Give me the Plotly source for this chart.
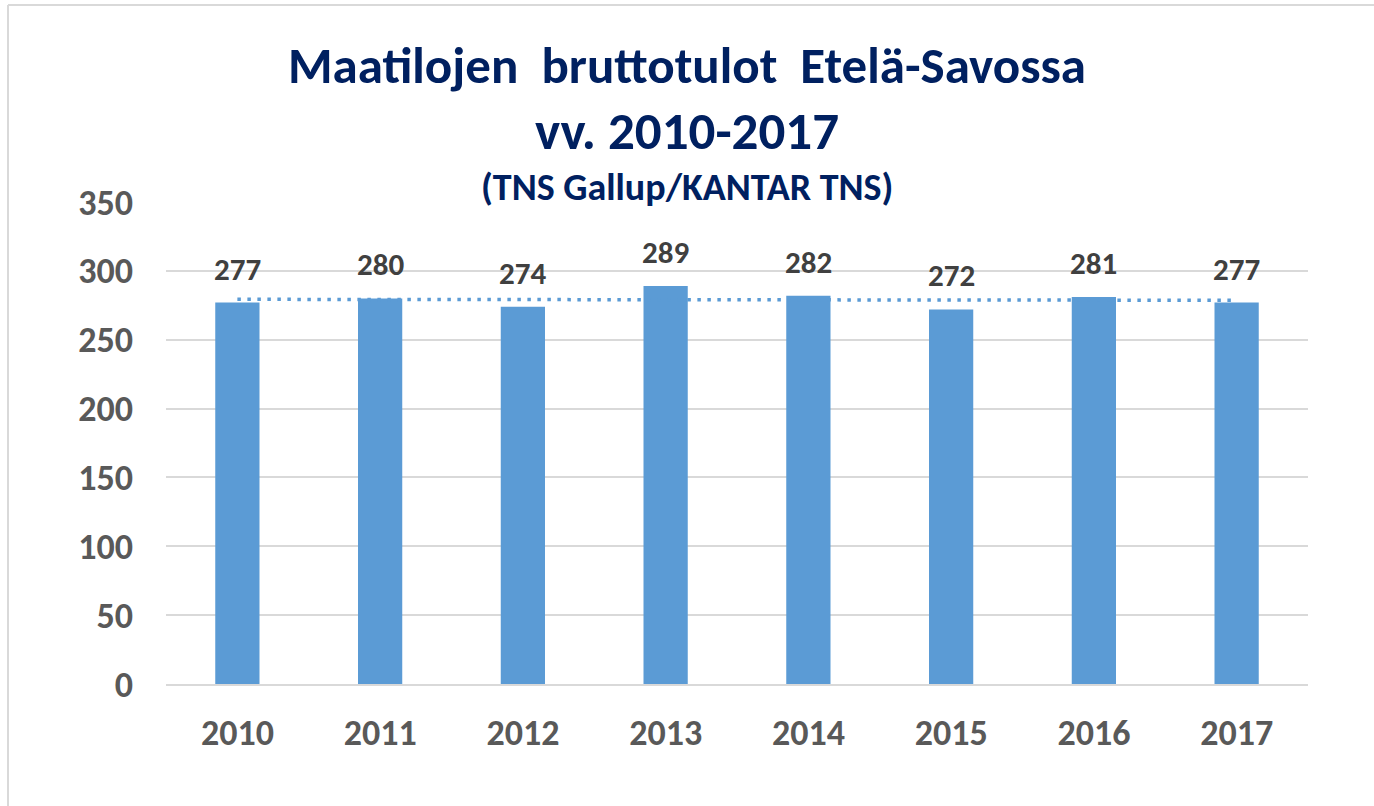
import numpy as np
import plotly.graph_objects as go

years = ["2010", "2011", "2012", "2013", "2014", "2015", "2016", "2017"]
values = [277, 280, 274, 289, 282, 272, 281, 277]
y_ticks = [0, 50, 100, 150, 200, 250, 300, 350]
title_lines = ["Maatilojen  bruttotulot  Etelä-Savossa", "vv. 2010-2017", "(TNS Gallup/KANTAR TNS)"]

FONT = "Carlito, Lato, sans-serif"
BAR = "#5B9BD5"

# linear trend line (like Excel's trendline)
xi = np.arange(len(values))
slope, intercept = np.polyfit(xi, values, 1)
trend = intercept + slope * xi

fig = go.Figure()
fig.add_trace(go.Bar(
    x=years, y=values, marker=dict(color=BAR, line=dict(width=0)),
    hoverinfo="skip",
))
fig.add_trace(go.Scatter(
    x=years, y=trend, mode="lines",
    line=dict(color=BAR, width=3.5, dash="3.5px,6.5px"), hoverinfo="skip",
))

L, R, T, B = 166, 66, 202, 122
W, H = 1374, 806
ph = H - T - B
pw = W - L - R

def py(pix):
    return (H - B - pix) / ph

def px(pix):
    return (pix - L) / pw

annos = []
for txt, ypix, size in zip(title_lines, [66, 131, 187], [51, 53, 38]):
    annos.append(dict(text=f"<b>{txt}</b>", x=px(W / 2), xref="paper",
                      y=py(ypix), yref="paper", showarrow=False, xanchor="center", yanchor="middle",
                      font=dict(family=FONT, size=size, color="#002060")))
for i, v in enumerate(values):
    annos.append(dict(text=f"<b>{v}</b>", x=i, y=v, xref="x", yref="y", showarrow=False,
                      xanchor="center", yanchor="bottom", yshift=13,
                      font=dict(family=FONT, size=31, color="#404040")))

fig.update_layout(
    width=W, height=H,
    margin=dict(l=L, r=R, t=T, b=B),
    paper_bgcolor="white", plot_bgcolor="white",
    showlegend=False, bargap=0.69,
    annotations=annos,
    shapes=[
        dict(type="line", xref="paper", yref="paper", x0=px(8), x1=px(1374), y0=py(5), y1=py(5),
             line=dict(color="#D9D9D9", width=2)),
        dict(type="line", xref="paper", yref="paper", x0=px(8), x1=px(8), y0=py(5), y1=py(806),
             line=dict(color="#D9D9D9", width=2)),
    ],
    xaxis=dict(type="category", showgrid=False, showline=True, linecolor="#D9D9D9", linewidth=2,
               tickfont=dict(family=FONT, size=36, color="#595959", weight="bold"),
               ticks="", ticklabelstandoff=16),
    yaxis=dict(range=[0, 350], tickvals=y_ticks, showgrid=True, gridcolor="#D9D9D9", gridwidth=1.5,
               zeroline=False, showline=False, ticks="",
               tickfont=dict(family=FONT, size=36, color="#595959", weight="bold"),
               ticklabelstandoff=32),
)

fig.write_html("out.html", config={"displayModeBar": False},
               post_script="document.body.style.margin='0';document.body.style.overflow='hidden';")
